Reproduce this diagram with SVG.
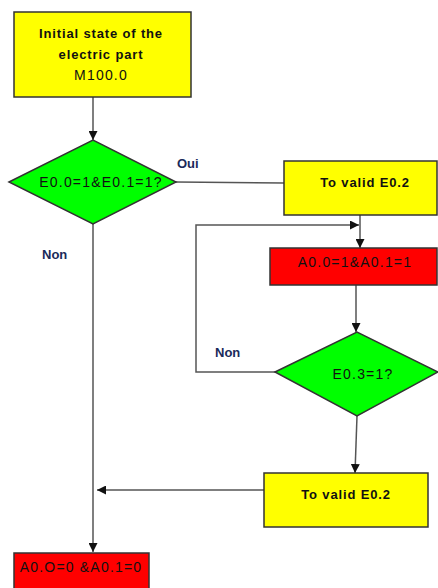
<svg xmlns="http://www.w3.org/2000/svg" width="438" height="588" viewBox="0 0 438 588">
  <style>
    .box { stroke: #333; stroke-width: 1.5; }
    .yellow { fill: #ffff00; }
    .red { fill: #ff0000; }
    .green { fill: #00ff00; }
    .link { fill: none; stroke: #555; stroke-width: 1.5; }
    .t { font-family: "Liberation Sans", Arial, sans-serif; font-size: 13px; fill: #111; text-anchor: middle; }
    .b { font-weight: bold; letter-spacing: 0.85px; }
    .r { font-size: 14px; letter-spacing: 1.2px; }
    .lbl { font-family: "Liberation Sans", Arial, sans-serif; font-size: 13px; font-weight: bold; fill: #1a2a5a; }
  </style>
  <defs>
    <marker id="arrow" viewBox="0 0 10 10" refX="10" refY="5" markerWidth="9" markerHeight="9" markerUnits="userSpaceOnUse" orient="auto">
      <path d="M0,0 L10,5 L0,10 Z" fill="#111"/>
    </marker>
  </defs>

  <!-- connectors -->
  <g id="connectors">
    <line class="link" x1="93" y1="97" x2="93" y2="140" marker-end="url(#arrow)"/>
    <line class="link" x1="176" y1="182" x2="284" y2="183"/>
    <line class="link" x1="93" y1="224" x2="93" y2="552" marker-end="url(#arrow)"/>
    <line class="link" x1="360" y1="215" x2="360" y2="248" marker-end="url(#arrow)"/>
    <polyline class="link" points="275,372 196,372 196,225 359,225" marker-end="url(#arrow)"/>
    <line class="link" x1="356" y1="285" x2="356" y2="332" marker-end="url(#arrow)"/>
    <line class="link" x1="357" y1="416" x2="355" y2="473" marker-end="url(#arrow)"/>
    <line class="link" x1="264" y1="490" x2="97" y2="490" marker-end="url(#arrow)"/>
  </g>

  <!-- start state -->
  <g id="init">
    <rect class="box yellow" x="14" y="12" width="177" height="85"/>
    <text class="t b" x="101" y="38">Initial state of the</text>
    <text class="t b" x="101" y="59">electric part</text>
    <text class="t r" x="101" y="80">M100.0</text>
  </g>

  <!-- first test -->
  <g id="test1">
    <polygon class="box green" points="9,182 93,140 176,182 93,224"/>
    <text class="t r" x="101" y="187">E0.0=1&amp;E0.1=1?</text>
  </g>
  <text class="lbl" x="177" y="168">Oui</text>
  <text class="lbl" x="42" y="259">Non</text>

  <!-- validate E0.2 -->
  <g id="valid1">
    <rect class="box yellow" x="284" y="161" width="153" height="54"/>
    <text class="t b" x="365" y="187">To valid E0.2</text>
  </g>

  <!-- outputs on -->
  <g id="out1">
    <rect class="box red" x="270" y="248" width="167" height="37"/>
    <text class="t r" x="355" y="267">A0.0=1&amp;A0.1=1</text>
  </g>

  <!-- second test -->
  <g id="test2">
    <polygon class="box green" points="275,372 357,332 438,372 357,416"/>
    <text class="t r" x="363" y="379">E0.3=1?</text>
  </g>
  <text class="lbl" x="215" y="357">Non</text>

  <!-- validate E0.2 again -->
  <g id="valid2">
    <rect class="box yellow" x="264" y="473" width="164" height="54"/>
    <text class="t b" x="346" y="499">To valid E0.2</text>
  </g>

  <!-- outputs off -->
  <g id="out0">
    <rect class="box red" x="14" y="553" width="135" height="45"/>
    <text class="t r" x="81" y="572">A0.O=0 &amp;A0.1=0</text>
  </g>
</svg>
